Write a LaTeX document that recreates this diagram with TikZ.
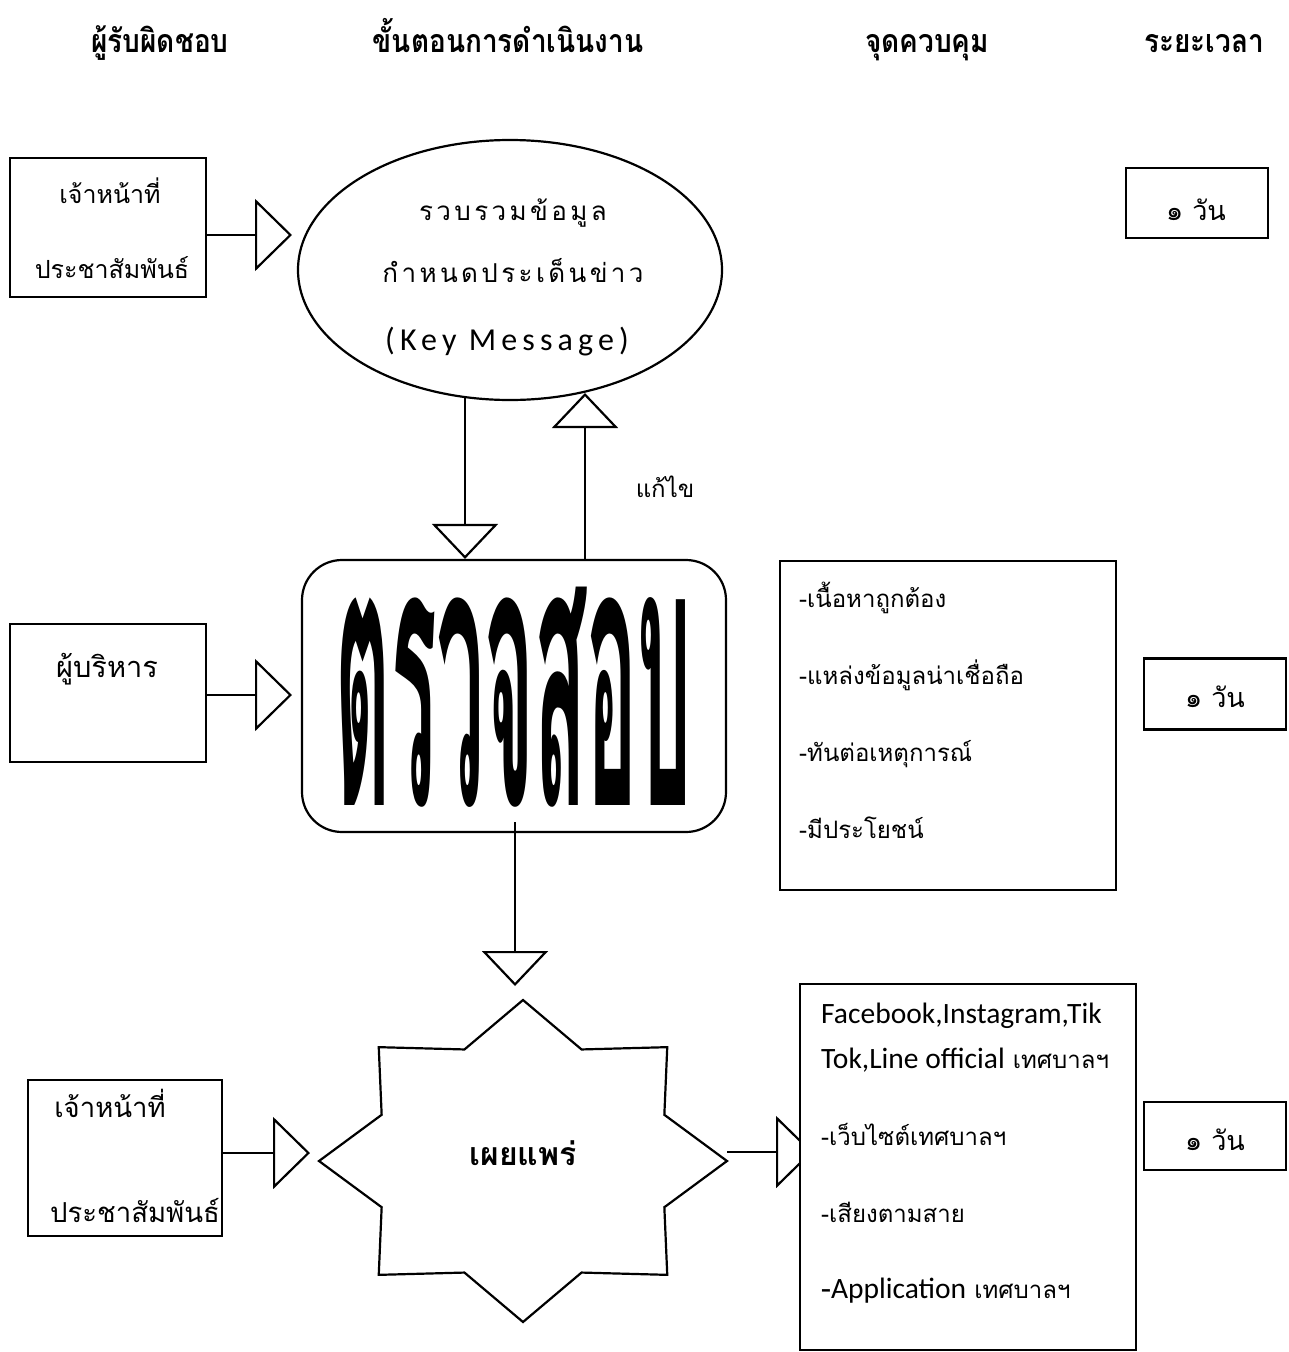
\documentclass[tikz,border=0pt]{standalone}
\usepackage{fontspec}
\usetikzlibrary{arrows.meta,shapes.geometric}
\setmainfont[Script=Thai]{Loma}
\newfontfamily\thsp[Script=Thai,LetterSpace=13]{Loma}
\newfontfamily\latf{Carlito}
\newfontfamily\latk[LetterSpace=16]{Carlito}
\newcommand{\bigword}{\resizebox{356pt}{218pt}{\bfseries ตรวจสอบ}}
\tikzset{
  box/.style={draw, line width=2.2pt, fill=white, inner sep=0pt},
  txt/.style={inner sep=0pt, anchor=base, font=\fontsize{24}{28}\selectfont},
  ltxt/.style={inner sep=0pt, anchor=base west, font=\fontsize{24}{28}\selectfont},
  hdr/.style={inner sep=0pt, anchor=base, font=\fontsize{28}{32}\selectfont\bfseries},
  conn/.style={line width=2.8pt, -{Triangle[open, length=37pt, width=72pt, line width=2.2pt]}},
  vconn/.style={line width=2.8pt, -{Triangle[open, length=35pt, width=66pt, line width=2.2pt]}},
}
\begin{document}
\begin{tikzpicture}[x=1pt,y=-1pt]
\useasboundingbox (0,0) rectangle (1288,1352);
% headers
\node[hdr] (h1) at (160,52) {\scalebox{1}[1.15]{ผู้รับผิดชอบ}};
\node[hdr] (h2) at (508,52) {\scalebox{1}[1.15]{ขั้นตอนการดำเนินงาน}};
\node[hdr] (h3) at (927,52) {\scalebox{1}[1.15]{จุดควบคุม}};
\node[hdr] (h4) at (1204,52) {\scalebox{1}[1.15]{ระยะเวลา}};
% row 1
\node[box, minimum width=196pt, minimum height=139pt] (r1) at (108,227.5) {};
\node[txt, font=\fontsize{25}{29}\selectfont] (r1a) at (110,203) {เจ้าหน้าที่};
\node[txt, font=\fontsize{25}{29}\selectfont] (r1b) at (112,278) {ประชาสัมพันธ์};
\node[draw, ellipse, line width=2.2pt, minimum width=424pt, minimum height=260pt, inner sep=0pt] (ell) at (510,270) {};
\node[txt, font=\fontsize{26}{30}\selectfont\thsp] (e1) at (513,220) {รวบรวมข้อมูล};
\node[txt, font=\fontsize{26}{30}\selectfont\thsp] (e2) at (513,282) {กำหนดประเด็นข่าว};
\node[txt, font=\fontsize{32}{36}\selectfont\latk] (e3) at (507,350) {(Key Message)};
\coordinate (t1) at (292,235);
\draw[conn] (r1.east |- t1) -- (t1);
\node[box, minimum width=142pt, minimum height=70pt] (d1) at (1197,203) {};
\node[txt, font=\fontsize{27}{30}\selectfont] (d1t) at (1196,220) {๑ วัน};
% row 2
\node[box, rounded corners=40pt, minimum width=424pt, minimum height=272pt] (chk) at (514,696) {};
\node[inner sep=0pt] (big) at (514,697) {\bigword};
\coordinate (dn1) at (465,396);
\coordinate (up1) at (585,393);
\draw[vconn] (dn1) -- (dn1 |- chk.north);
\draw[vconn] (up1 |- chk.north) -- (up1);
\node[txt] (fix) at (665,497) {แก้ไข};
\node[box, minimum width=196pt, minimum height=138pt] (r2) at (108,693) {};
\node[txt, font=\fontsize{29}{32}\selectfont] (r2t) at (107,677) {ผู้บริหาร};
\coordinate (t2) at (292,695);
\draw[conn] (r2.east |- t2) -- (t2);
\node[box, minimum width=336pt, minimum height=329pt] (ctl) at (948,725.5) {};
\node[ltxt] (c1) at (799,607) {-เนื้อหาถูกต้อง};
\node[ltxt] (c2) at (799,684) {-แหล่งข้อมูลน่าเชื่อถือ};
\node[ltxt] (c3) at (799,761) {-ทันต่อเหตุการณ์};
\node[ltxt] (c4) at (799,838) {-มีประโยชน์};
\node[box, minimum width=142pt, minimum height=71pt] (d2) at (1215,694) {};
\node[txt, font=\fontsize{27}{30}\selectfont] (d2t) at (1215,707) {๑ วัน};
% row 3
\coordinate (sc) at (523,1161);
\draw[line width=2.2pt, line join=miter] (523+204,1161)
  \foreach \a/\r in {22.5/0.75,45/1,67.5/0.75,90/1,112.5/0.75,135/1,157.5/0.75,180/1,202.5/0.75,225/1,247.5/0.75,270/1,292.5/0.75,315/1,337.5/0.75}
  { -- ({523+204*\r*cos(\a)},{1161-161*\r*sin(\a)}) } -- cycle;
\node[txt, font=\fontsize{32}{36}\selectfont\bfseries] (pub) at (523,1165) {เผยแพร่};
\coordinate (dn2s) at (515,822);
\coordinate (dn2) at (515,986);
\draw[vconn] (dn2s) -- (dn2);
\node[box, minimum width=194pt, minimum height=156pt] (r3) at (125,1158) {};
\node[txt, font=\fontsize{27.5}{31}\selectfont] (r3a) at (110,1117) {เจ้าหน้าที่};
\node[txt, font=\fontsize{27.5}{31}\selectfont] (r3b) at (135,1222) {ประชาสัมพันธ์};
\coordinate (t3) at (310,1153);
\draw[conn] (r3.east |- t3) -- (t3);
\coordinate (sr) at (727,1152);
\coordinate (t4) at (813,1152);
\draw[conn] (sr) -- (t4);
\node[box, minimum width=336pt, minimum height=366pt] (fb) at (968,1167) {};
\node[ltxt, font=\fontsize{29.5}{33}\selectfont\latf] (f1) at (821,1023) {Facebook,Instagram,Tik};
\node[ltxt] (f2) at (821,1068) {{\fontsize{29.5}{33}\selectfont\latf Tok,Line official} เทศบาลฯ};
\node[ltxt] (f3) at (821,1145) {-เว็บไซต์เทศบาลฯ};
\node[ltxt] (f4) at (821,1222) {-เสียงตามสาย};
\node[ltxt] (f5) at (821,1298) {{\fontsize{29.5}{33}\selectfont -\latf Application} เทศบาลฯ};
\node[box, minimum width=142pt, minimum height=68pt] (d3) at (1215,1136) {};
\node[txt, font=\fontsize{27}{30}\selectfont] (d3t) at (1215,1150) {๑ วัน};
\end{tikzpicture}
\end{document}
